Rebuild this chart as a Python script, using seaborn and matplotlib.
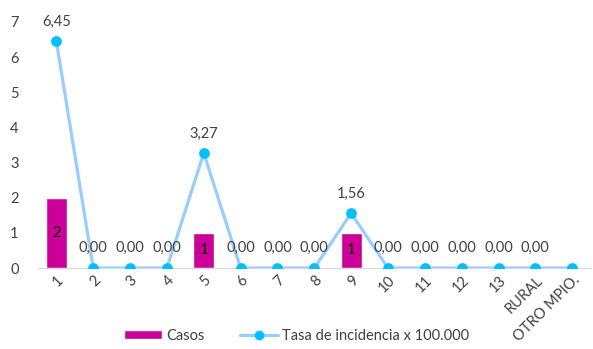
import matplotlib
matplotlib.use("Agg")
import matplotlib.pyplot as plt
import seaborn as sns
import pandas as pd
from matplotlib.lines import Line2D
from matplotlib.patches import Patch

# datos
barrios = ["1", "2", "3", "4", "5", "6", "7", "8", "9", "10", "11", "12", "13", "RURAL", "OTRO MPIO."]
casos = [2, 0, 0, 0, 1, 0, 0, 0, 1, 0, 0, 0, 0, 0, 0]
tasa = [6.45, 0, 0, 0, 3.27, 0, 0, 0, 1.56, 0, 0, 0, 0, 0, 0]
tasa_txt = ["6,45", "0,00", "0,00", "0,00", "3,27", "0,00", "0,00", "0,00", "1,56",
            "0,00", "0,00", "0,00", "0,00", "0,00", ""]

df = pd.DataFrame({"barrio": barrios, "casos": casos, "tasa": tasa})

sns.set_style("white")
plt.rcParams["font.family"] = ["Lato", "DejaVu Sans"]

fig = plt.figure(figsize=(5.93, 3.49), dpi=100)
ax = fig.add_axes([0.064, 0.232, 0.932, 0.705])

c_bar = "#CC0099"
c_line = "#99CCFF"
c_mark = "#00BFFF"
fs = 10.5

sns.barplot(data=df, x="barrio", y="casos", color=c_bar, width=0.57,
            saturation=1, ax=ax, zorder=2)
sns.pointplot(data=df, x="barrio", y="tasa", color=c_line, markers="o",
              markersize=6, linewidth=2.3, ax=ax, zorder=3)
for ln in ax.lines:
    ln.set_markerfacecolor(c_mark)
    ln.set_markeredgecolor(c_mark)

# etiquetas
for i, v in enumerate(casos):
    if v > 0:
        ax.text(i, v / 2, str(v), ha="center", va="center", fontsize=fs, color="black", zorder=4)
for i, (v, t) in enumerate(zip(tasa, tasa_txt)):
    if t:
        ax.text(i, v + 0.36, t, ha="center", va="bottom", fontsize=fs, color="#404040", zorder=4)

ax.set_ylim(0, 7)
ax.set_xlim(-0.5, len(barrios) - 0.5)
ax.set_yticks(range(0, 8))
ax.set_xlabel("")
ax.set_ylabel("")
for s in ["top", "right", "left"]:
    ax.spines[s].set_visible(False)
ax.spines["bottom"].set_color("#D9D9D9")
ax.tick_params(axis="both", length=0, labelsize=fs, labelcolor="#404040")
ax.tick_params(axis="y", pad=14)
plt.setp(ax.get_xticklabels(), rotation=45, ha="right", rotation_mode="anchor")

handles = [Patch(facecolor=c_bar, label="Casos"),
           Line2D([], [], color=c_line, lw=2.3, marker="o", markersize=6,
                  markerfacecolor=c_mark, markeredgecolor=c_mark,
                  label="Tasa de incidencia x 100.000")]
fig.legend(handles=handles, loc="lower center", bbox_to_anchor=(0.5, -0.02), ncol=2,
           frameon=False, fontsize=fs, handlelength=2.6, handleheight=0.6,
           columnspacing=2.4, handletextpad=0.3, labelcolor="#404040")

fig.savefig("out.png", dpi=100)
